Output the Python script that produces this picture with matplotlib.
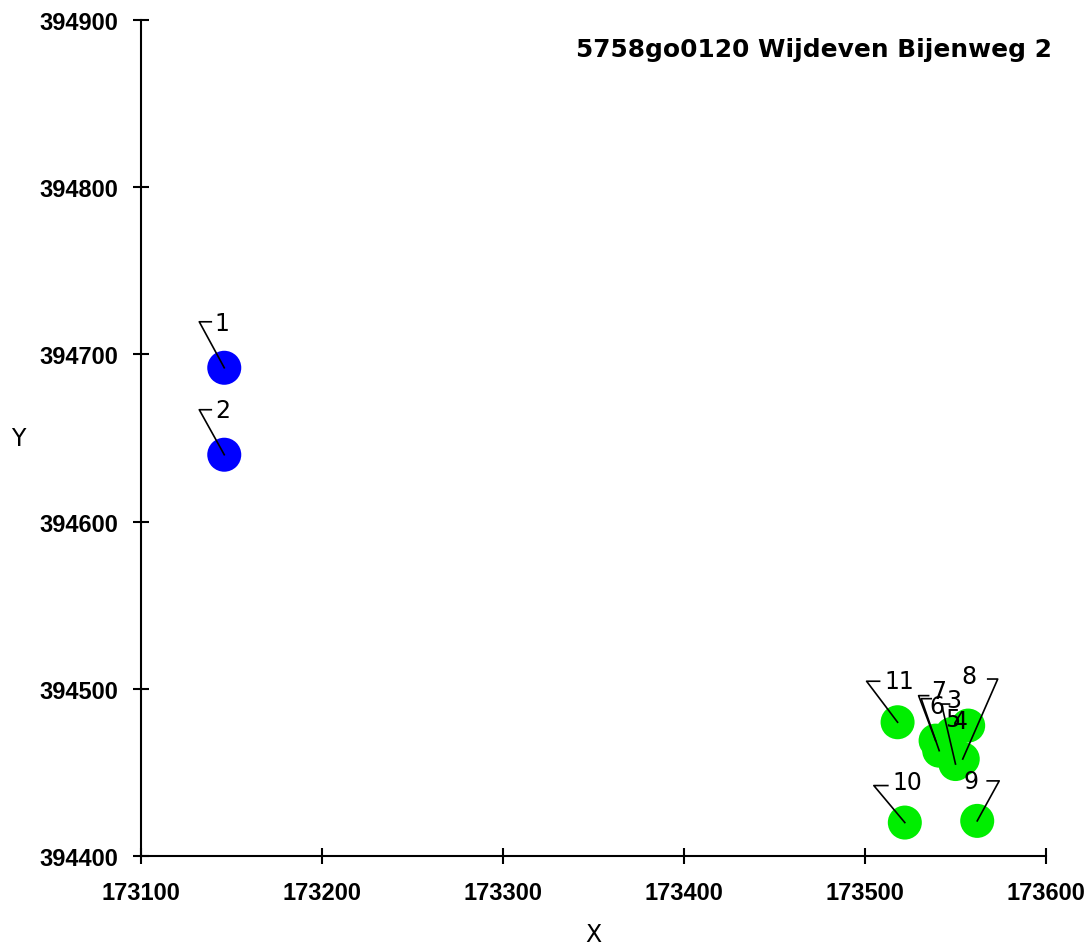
import matplotlib.pyplot as plt

plt.rcParams["font.family"] = ["DejaVu Sans"]

labels = ["1", "2", "3", "4", "5", "6", "7", "8", "9", "10", "11"]
x = [173146, 173146, 173550, 173557, 173548, 173541, 173539, 173554, 173562, 173522, 173518]
y = [394692, 394640, 394455, 394478, 394473, 394463, 394469, 394458, 394421, 394420, 394480]
colors = ["#0000ff"] * 2 + ["#00ee00"] * 9

# label layout in pixels relative to the point: text dx, dy, leader corner dx, dy, hook length
label_pos = {
    "1": (-2, 45, -25, 46, 12),
    "2": (-2, 45, -25, 45, 12),
    "3": (-2, 64, -14, 60, 8),
    "4": (-8, 5, None, None, 0),
    "5": (1, 15, None, None, 0),
    "6": (-2, 45, -18, 52, 10),
    "7": (3, 50, -17, 45, 10),
    "8": (6, 83, 35, 80, -10),
    "9": (-6, 40, 22, 40, -12),
    "10": (3, 41, -31, 37, 14),
    "11": (2, 41, -31, 41, 13),
}

fig = plt.figure(figsize=(10.9, 9.53), dpi=100)
ax = fig.add_axes([141 / 1090, 96 / 953, 905 / 1090, 836 / 953])

ax.scatter(x, y, s=600, c=colors, edgecolors="none", zorder=2)

ax.set_xlim(173100, 173600)
ax.set_ylim(394400, 394900)
ax.set_xticks(range(173100, 173601, 100))
ax.set_yticks(range(394400, 394901, 100))
ax.spines["top"].set_visible(False)
ax.spines["right"].set_visible(False)
ax.spines["left"].set_linewidth(1.5)
ax.spines["bottom"].set_linewidth(1.5)
ax.tick_params(direction="inout", length=12, width=1.5, labelsize=17)
ax.tick_params(axis="x", pad=12)
ax.tick_params(axis="y", pad=10)
for t in ax.get_xticklabels() + ax.get_yticklabels():
    t.set_fontweight("bold")
    t.set_family("Liberation Sans")

ax.set_xlabel("X", fontsize=17, va="center")
ax.set_ylabel("Y", fontsize=17, rotation=0, va="center", ha="center")
ax.yaxis.set_label_coords(-0.136, 0.5)
ax.xaxis.set_label_coords(0.5, -0.093)

ax.text(1.0066, 0.965, "5758go0120 Wijdeven Bijenweg 2", transform=ax.transAxes,
        ha="right", va="center", fontsize=17.9, fontweight="bold")

# labels with leader lines
to_data = ax.transData.inverted()
for lab, px, py in zip(labels, x, y):
    tx, ty, cx, cy, hk = label_pos[lab]
    dx, dy = ax.transData.transform((px, py))
    if cx is not None:
        pts = [(dx, dy), (dx + cx, dy + cy), (dx + cx + hk, dy + cy)]
        pts = to_data.transform(pts)
        ax.plot(pts[:, 0], pts[:, 1], color="black", lw=1.2, zorder=3, clip_on=False)
    tpos = to_data.transform((dx + tx, dy + ty))
    ax.text(tpos[0], tpos[1], lab, ha="center", va="center", fontsize=17, zorder=4)

fig.savefig("out.png", dpi=100)
